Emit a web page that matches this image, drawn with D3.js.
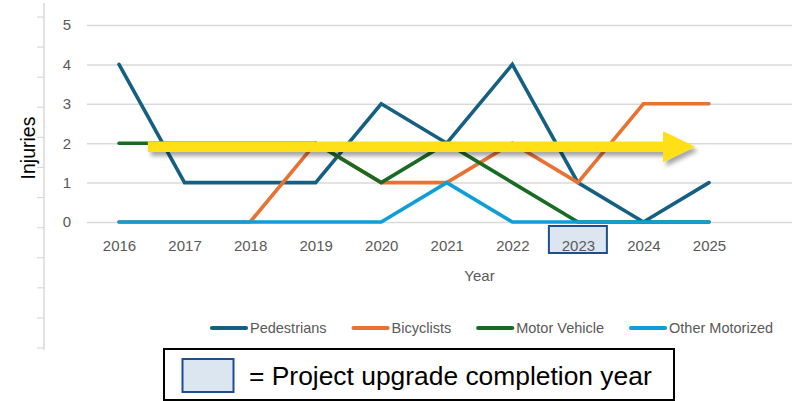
<!DOCTYPE html>
<html><head><meta charset="utf-8">
<script src="https://cdn.jsdelivr.net/npm/d3@7"></script>
<style>
html,body{margin:0;padding:0;background:#fff;}
svg{display:block;}
</style></head>
<body>
<svg id="c" width="794" height="401"></svg>
<script>
const years = [2016,2017,2018,2019,2020,2021,2022,2023,2024,2025];
const seriesNames = ["Pedestrians","Bicyclists","Motor Vehicle","Other Motorized"];
const pedestrians    = [4,1,1,1,3,2,4,1,0,1];
const bicyclists     = [0,0,0,2,1,1,2,1,3,3];
const motorVehicle   = [2,2,2,2,1,2,1,0,0,0];
const otherMotorized = [0,0,0,0,0,1,0,0,0,0];
const colors = ["#156082","#E97132","#196B24","#0F9ED5"];
const yTicks = [0,1,2,3,4,5];
const highlightYear = 2023;
// annotation arrow (in data units): start year, end year, head start year, level
const arrowSpan = [2016.44, 2024.79];
const arrowHeadStart = 2024.3;
const arrowLevel = 1.91;

const allSeries = [pedestrians, bicyclists, motorVehicle, otherMotorized];
const svg = d3.select("#c");

const x = d3.scaleLinear().domain([2016,2025]).range([119,709]);
const y = d3.scaleLinear().domain([0,5]).range([222,25]);
const gridLeft = 87, gridRight = 792;
const gray = "#595959";
const fontF = "'Liberation Sans', Arial, sans-serif";

// drop shadow filter
const defs = svg.append("defs");
const f = defs.append("filter").attr("id","sh").attr("x","-10%").attr("y","-50%").attr("width","120%").attr("height","250%");
f.append("feDropShadow").attr("dx",3).attr("dy",4).attr("stdDeviation",2.2).attr("flood-color","#000").attr("flood-opacity",0.35);

// faint left ruler artifact
svg.append("line").attr("x1",44).attr("x2",44).attr("y1",3).attr("y2",350).attr("stroke","#d9d9d9").attr("stroke-width",1.5);
const rulerScale = d3.scaleLinear().domain([0,11]).range([17,348]);
svg.append("g").selectAll("line").data(d3.range(12)).join("line")
  .attr("x1",37).attr("x2",44).attr("y1",d=>rulerScale(d)).attr("y2",d=>rulerScale(d))
  .attr("stroke","#d9d9d9").attr("stroke-width",1.2);

// Y axis with gridlines
const yAxis = svg.append("g").attr("transform",`translate(${gridLeft},0)`)
  .call(d3.axisLeft(y).tickValues(yTicks).tickFormat(d3.format("d")).tickSize(-(gridRight-gridLeft)).tickPadding(16));
yAxis.select(".domain").remove();
yAxis.selectAll("line").attr("stroke","#d9d9d9").attr("stroke-width",1.5);
yAxis.selectAll("text").attr("fill",gray).style("font-family",fontF).style("font-size","15px");

// highlight box behind 2023 label
svg.append("rect").attr("x",x(highlightYear)-29).attr("y",226).attr("width",58).attr("height",27)
  .attr("fill","#dce6f0").attr("stroke","#1f4e8c").attr("stroke-width",2);

// X axis
const xAxis = svg.append("g").attr("transform",`translate(0,${y(0)})`)
  .call(d3.axisBottom(x).tickValues(years).tickFormat(d3.format("d")).tickSize(0).tickPadding(18));
xAxis.select(".domain").remove();
xAxis.selectAll("text").attr("fill",gray).style("font-family",fontF).style("font-size","15px");

// lines
const line = d3.line().x((d,i)=>x(years[i])).y(d=>y(d));
svg.append("g").selectAll("path").data(allSeries).join("path")
  .attr("d",d=>line(d)).attr("fill","none")
  .attr("stroke",(d,i)=>colors[i]).attr("stroke-width",3.6)
  .attr("stroke-linejoin","miter").attr("stroke-linecap","round");

// yellow arrow annotation
const ay = y(arrowLevel);
const barHalf = 5.2, headHalf = 15.6;
const ap = d3.path();
ap.moveTo(x(arrowSpan[0]), ay-barHalf);
ap.lineTo(x(arrowHeadStart), ay-barHalf);
ap.lineTo(x(arrowHeadStart), ay-headHalf);
ap.lineTo(x(arrowSpan[1]), ay);
ap.lineTo(x(arrowHeadStart), ay+headHalf);
ap.lineTo(x(arrowHeadStart), ay+barHalf);
ap.lineTo(x(arrowSpan[0]), ay+barHalf);
ap.closePath();
svg.append("path").attr("d",ap.toString()).attr("fill","#FFE014").attr("filter","url(#sh)");

// axis titles
svg.append("text").attr("transform","translate(35,148) rotate(-90)").attr("text-anchor","middle")
  .style("font-family",fontF).style("font-size","19.5px").attr("fill","#000").text("Injuries");
svg.append("text").attr("x",479.5).attr("y",280.5).attr("text-anchor","middle")
  .style("font-family",fontF).style("font-size","15px").attr("fill",gray).text("Year");

// legend
const lg = svg.append("g");
let lx = 210;
const ly = 328;
seriesNames.forEach((name,i)=>{
  lg.append("line").attr("x1",lx+2).attr("x2",lx+36).attr("y1",ly).attr("y2",ly)
    .attr("stroke",colors[i]).attr("stroke-width",4.2).attr("stroke-linecap","round");
  const t = lg.append("text").attr("x",lx+40).attr("y",ly+5)
    .style("font-family",fontF).style("font-size","14.5px").attr("fill",gray).text(name);
  lx = lx + 40 + t.node().getComputedTextLength() + 25;
});

// bottom note box
svg.append("rect").attr("x",164).attr("y",349).attr("width",510).attr("height",51)
  .attr("fill","#fff").attr("stroke","#000").attr("stroke-width",2);
svg.append("rect").attr("x",182.5).attr("y",359).attr("width",51).attr("height",33)
  .attr("fill","#dce6f0").attr("stroke","#1f4e8c").attr("stroke-width",2);
svg.append("text").attr("x",249).attr("y",384.5)
  .style("font-family",fontF).style("font-size","26.4px").attr("fill","#000").text("= Project upgrade completion year");
</script>
</body></html>
